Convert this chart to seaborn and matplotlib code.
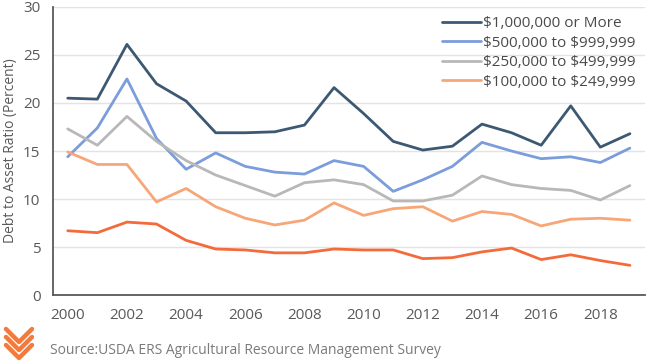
import pandas as pd
import numpy as np
import matplotlib
matplotlib.use("Agg")
import matplotlib.pyplot as plt
import seaborn as sns

# ==========================================
# Data
# ==========================================

years = list(range(2000, 2020))

over_1m = [20.5, 20.4, 26.1, 22.0, 20.2, 16.9, 16.9, 17.0, 17.7, 21.6,
           18.9, 16.0, 15.1, 15.5, 17.8, 16.9, 15.6, 19.7, 15.4, 16.8]
from_500k = [14.4, 17.4, 22.5, 16.3, 13.1, 14.8, 13.4, 12.8, 12.6, 14.0,
             13.4, 10.8, 12.0, 13.4, 15.9, 15.0, 14.2, 14.4, 13.8, 15.3]
from_250k = [17.3, 15.6, 18.6, 16.0, 14.0, 12.5, 11.4, 10.3, 11.7, 12.0,
             11.5, 9.8, 9.8, 10.4, 12.4, 11.5, 11.1, 10.9, 9.9, 11.4]
from_100k = [14.9, 13.6, 13.6, 9.7, 11.1, 9.2, 8.0, 7.3, 7.8, 9.6,
             8.3, 9.0, 9.2, 7.7, 8.7, 8.4, 7.2, 7.9, 8.0, 7.8]
under_100k = [6.7, 6.5, 7.6, 7.4, 5.7, 4.8, 4.7, 4.4, 4.4, 4.8,
              4.7, 4.7, 3.8, 3.9, 4.5, 4.9, 3.7, 4.2, 3.6, 3.1]

labels = ["\\$1,000,000 or More", "\\$500,000 to \\$999,999",
          "\\$250,000 to \\$499,999", "\\$100,000 to \\$249,999", None]
colors = ["#3d5873", "#7b9ddb", "#b8b8b8", "#f7a678", "#f36b3b"]
series = [over_1m, from_500k, from_250k, from_100k, under_100k]

# ==========================================
# Plot
# ==========================================

sns.set_style("white")
plt.rcParams['font.family'] = ['Open Sans', 'DejaVu Sans']

fig = plt.figure(figsize=(6.46, 3.63), dpi=100)
ax = fig.add_axes([0.082, 0.187, 0.916, 0.794])

for vals, lab, col in zip(series, labels, colors):
    df = pd.DataFrame({"year": years, "ratio": vals})
    sns.lineplot(data=df, x="year", y="ratio", color=col, linewidth=2,
                 label=lab if lab else "_nolegend_", ax=ax)

ax.set_xlim(1999.5, 2019.5)
ax.set_ylim(0, 30)
ax.set_xticks(range(2000, 2020, 2))
ax.set_yticks(range(0, 31, 5))
ax.yaxis.grid(True, color="#e3e3e3", linewidth=1)
ax.set_axisbelow(True)
ax.tick_params(axis="both", length=0, labelsize=11, labelcolor="#595959")
ax.tick_params(axis="x", pad=9)
ax.tick_params(axis="y", pad=9)

for s in ["top", "right"]:
    ax.spines[s].set_visible(False)
for s in ["left", "bottom"]:
    ax.spines[s].set_color("#595959")
    ax.spines[s].set_linewidth(1.3)

ax.set_xlabel("")
ax.set_ylabel("Debt to Asset Ratio (Percent)", fontsize=10, color="#595959",
              labelpad=4)

ax.legend(loc="upper right", frameon=False, fontsize=11, handlelength=2.6,
          handletextpad=0.1, labelspacing=0.3, borderaxespad=0.2,
          labelcolor="#4a4a4a")

# source line and logo
fig.text(0.077, 0.025, "Source:USDA ERS Agricultural Resource Management Survey",
         fontsize=10, color="#7a7a7a")

for off in [0, 8, 16]:
    xs = np.array([6, 19, 32]) / 646
    ys = 1 - (np.array([329, 342, 329]) + off) / 363
    fig.add_artist(plt.Line2D(xs, ys, color="#f47a3c", linewidth=3.2,
                              transform=fig.transFigure))

plt.savefig("out.png", dpi=100)
